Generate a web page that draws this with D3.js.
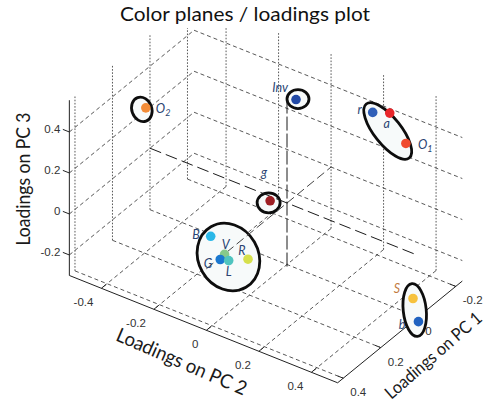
<!DOCTYPE html>
<html><head><meta charset="utf-8">
<script src="https://cdn.jsdelivr.net/npm/d3@7"></script>
<style>body{margin:0;background:#fff}</style>
</head><body>
<svg id="c" width="496" height="412" xmlns="http://www.w3.org/2000/svg"></svg>
<script>
// ---------- data ----------
const names     = ["O2", "Inv", "r", "a", "O1", "g", "B", "V", "G", "L", "R", "S", "b"];
const pc1Vals   = [0.235, -0.02, -0.17, -0.17, -0.20, 0.02, 0.19, 0.20, 0.23, 0.22, 0.18, 0.00, 0.02];
const pc2Vals   = [-0.37, 0.02, 0.205, 0.27, 0.31, -0.05, -0.155, -0.095, -0.09, -0.065, -0.02, 0.48, 0.515];
const pc3Vals   = [0.45, 0.50, 0.42, 0.45, 0.30, 0.00, -0.10, -0.15, -0.15, -0.15, -0.15, -0.22, -0.30];
const pointColors = ["#f28c38", "#2149a6", "#2f5fb8", "#e8262a", "#f04a2e", "#9e1f24", "#2bb8e8",
                     "#86c98a", "#1a78d0", "#4fc4bf", "#d6e04c", "#f7c23e", "#2062c0"];
const groups = [["O2"], ["Inv"], ["r", "a", "O1"], ["g"], ["B", "V", "G", "L", "R"], ["S", "b"]];
const pc1Ticks = [0.4, 0.2, 0, -0.2];
const pc2Ticks = [-0.4, -0.2, 0, 0.2, 0.4];
const pc3Ticks = [0.4, 0.2, 0, -0.2];
const pc1Lim = [-0.235, 0.43];
const pc2Lim = [-0.522, 0.5];
const pc3Lim = [-0.3, 0.555];
const titleText = "Color planes / loadings plot";
const axisTitles = ["Loadings on PC 1", "Loadings on PC 2", "Loadings on PC 3"];

// ---------- presentation ----------
const labelLayout = {
  O2:  {dx: 10,  dy: 5,   anchor: "start",  base: "O", sub: "2"},
  Inv: {dx: -8,  dy: -8,  anchor: "end",    base: "Inv"},
  r:   {dx: -11, dy: 2,   anchor: "end",    base: "r"},
  a:   {dx: -3,  dy: 15,  anchor: "middle", base: "a"},
  O1:  {dx: 12,  dy: 6,   anchor: "start",  base: "O", sub: "1"},
  g:   {dx: -6,  dy: -24, anchor: "middle", base: "g"},
  B:   {dx: -11, dy: 3,   anchor: "end",    base: "B"},
  V:   {dx: 1,   dy: -5,  anchor: "middle", base: "V"},
  G:   {dx: -8,  dy: 9,   anchor: "end",    base: "G"},
  L:   {dx: 0,   dy: 15,  anchor: "middle", base: "L"},
  R:   {dx: -6,  dy: -4,  anchor: "middle", base: "R"},
  S:   {dx: -13, dy: -6,  anchor: "end",    base: "S", color: "#c27a3e"},
  b:   {dx: -13, dy: 7,   anchor: "end",    base: "b"}
};
const ellipseStyle = [
  {dx: -4,   dy: 1.5, rx: 10,   ry: 12.5, rot: -20},
  {dx: 2,    dy: -0.5, rx: 11,  ry: 9.5,  rot: 0},
  {dx: -1.7, dy: 8,   rx: 34.5, ry: 13.5, rot: 51.5},
  {dx: -1.5, dy: 2,   rx: 11.5, ry: 10,   rot: 0},
  {dx: 2,    dy: 3,   rx: 30,   ry: 35,   rot: -30},
  {dx: -1,   dy: 0,   rx: 11.5, ry: 26.5, rot: -6}
];

// ---------- projection built from d3 scales ----------
const X1 = d3.scaleLinear().domain([0, 1]).range([0, -187.5]);
const Y1 = d3.scaleLinear().domain([0, 1]).range([0, 153]);
const X2 = d3.scaleLinear().domain([0, 1]).range([0, 262.5]);
const Y2 = d3.scaleLinear().domain([0, 1]).range([0, 105]);
const Y3 = d3.scaleLinear().domain([0, 1]).range([0, -205]);
const O = [287, 203];
const proj = (a, b, c) => [O[0] + X1(a) + X2(b), O[1] + Y1(a) + Y2(b) + Y3(c)];

const svg = d3.select("#c");
const [q0, q1] = pc1Lim, [p0, p1] = pc2Lim, [z0, z1] = pc3Lim;
const line = d3.line();

const gridG = svg.append("g").attr("fill", "none").attr("stroke", "#3a3a3a").attr("stroke-width", 0.85);
function seg(g, A, B, dash) {
  g.append("path").attr("d", line([A, B])).attr("stroke-dasharray", dash);
}
const DSL = "4,3", DV = "1.6,1.6";
// left back wall (pc2 = min)
pc1Ticks.forEach(t => seg(gridG, proj(t, p0, z0), proj(t, p0, z1), DV));
pc3Ticks.forEach(t => seg(gridG, proj(q1, p0, t), proj(q0, p0, t), DSL));
// right back wall (pc1 = min)
pc2Ticks.forEach(t => seg(gridG, proj(q0, t, z0), proj(q0, t, z1), DV));
pc3Ticks.forEach(t => seg(gridG, proj(q0, p0, t), proj(q0, p1, t), DSL));
// floor
pc1Ticks.forEach(t => seg(gridG, proj(t, p0, z0), proj(t, p1, z0), DSL));
pc2Ticks.forEach(t => seg(gridG, proj(q0, t, z0), proj(q1, t, z0), DSL));

// axes
const axG = svg.append("g").attr("stroke", "#222").attr("stroke-width", 1).attr("fill", "none");
axG.append("path").attr("d", line([proj(q1, p0, z0), proj(q1, p0, z1)]));
axG.append("path").attr("d", line([proj(q1, p0, z0), proj(q1, p1, z0)]));
axG.append("path").attr("d", line([proj(q1, p1, z0), proj(q0, p1, z0)]));
const unit = (v) => { const l = Math.hypot(v[0], v[1]); return [v[0] / l, v[1] / l]; };
const dirBack1 = unit([X1(-1), Y1(-1)]);   // towards smaller PC1
const dirBack2 = unit([X2(-1), Y2(-1)]);   // towards smaller PC2
const tickG = svg.append("g").attr("font-family", "'Liberation Sans', Arial, sans-serif")
  .attr("font-size", 11.5).attr("fill", "#333");
pc3Ticks.forEach(t => {
  const P = proj(q1, p0, t);
  axG.append("path").attr("d", line([P, [P[0] + dirBack2[0] * 7, P[1] + dirBack2[1] * 7]]));
  tickG.append("text").attr("x", P[0] - 9).attr("y", P[1] + 1).attr("text-anchor", "end").text(t);
});
pc2Ticks.forEach(t => {
  const P = proj(q1, t, z0);
  axG.append("path").attr("d", line([P, [P[0] + dirBack1[0] * 6, P[1] + dirBack1[1] * 6]]));
  tickG.append("text").attr("x", P[0] - 8).attr("y", P[1] + 18).attr("text-anchor", "end").text(t);
});
pc1Ticks.forEach(t => {
  const P = proj(t, p1, z0);
  axG.append("path").attr("d", line([P, [P[0] + dirBack2[0] * 6, P[1] + dirBack2[1] * 6]]));
  tickG.append("text").attr("x", P[0] + 7).attr("y", P[1] + 18).attr("text-anchor", "start").text(t);
});

// points
const pts = names.map((n, i) => ({name: n, a: pc1Vals[i], b: pc2Vals[i], c: pc3Vals[i], color: pointColors[i]}));
pts.forEach(d => { d.P = proj(d.a, d.b, d.c); });
const byName = Object.fromEntries(pts.map(d => [d.name, d]));

// ellipses
const ellG = svg.append("g");
groups.forEach((grp, i) => {
  const cx = d3.mean(grp, n => byName[n].P[0]) + ellipseStyle[i].dx;
  const cy = d3.mean(grp, n => byName[n].P[1]) + ellipseStyle[i].dy;
  ellG.append("ellipse").attr("cx", 0).attr("cy", 0)
    .attr("rx", ellipseStyle[i].rx).attr("ry", ellipseStyle[i].ry)
    .attr("transform", `translate(${cx},${cy}) rotate(${ellipseStyle[i].rot})`)
    .attr("fill", "#f7fafa").attr("stroke", "#0d0d0d").attr("stroke-width", 2.8);
});

// principal lines through the origin
const plG = svg.append("g").attr("stroke", "#1a1a1a").attr("stroke-width", 1).attr("fill", "none")
  .attr("stroke-dasharray", "12,5");
plG.append("path").attr("d", line([proj(q1, 0, 0), proj(q0, 0, 0)])).attr("stroke", "#444").attr("stroke-dasharray", "9,4");
plG.append("path").attr("d", line([proj(0, p0, 0), proj(0, p1, 0)]));
plG.append("path").attr("d", line([proj(0, 0, z0 - 0.01), proj(0, 0, 0.5)])).attr("stroke-dasharray", "14,3");

// points
svg.append("g").selectAll("circle").data(pts).join("circle")
  .attr("cx", d => d.P[0]).attr("cy", d => d.P[1]).attr("r", 4.8).attr("fill", d => d.color);

// labels
const labG = svg.append("g").attr("font-family", "Lato, 'Open Sans', sans-serif").attr("font-style", "italic")
  .attr("font-size", 12.5);
pts.forEach(d => {
  const L = labelLayout[d.name];
  const t = labG.append("text").attr("x", d.P[0] + L.dx).attr("y", d.P[1] + L.dy)
    .attr("text-anchor", L.anchor).attr("fill", L.color || "#2a4472").text(L.base);
  if (L.sub) t.append("tspan").attr("font-size", 9).attr("dy", 3).text(L.sub);
});

// axis titles
const atG = svg.append("g").attr("font-family", "Lato, 'Open Sans', sans-serif").attr("fill", "#1a1a1a")
  .attr("text-anchor", "middle").attr("dominant-baseline", "central");
function axTitle(txt, tr, len, fs) {
  atG.append("text").attr("transform", tr).attr("font-size", fs)
    .attr("textLength", len).attr("lengthAdjust", "spacingAndGlyphs").text(txt);
}
axTitle(axisTitles[0], "translate(433,355) rotate(-41)", 122, 17.5);
axTitle(axisTitles[1], "translate(182,361) rotate(23.5)", 140, 19.5);
axTitle(axisTitles[2], "translate(22,179) rotate(-90)", 133, 19.5);

// title
svg.append("rect").attr("x", 112).attr("y", 0).attr("width", 266).attr("height", 28).attr("fill", "#fff");
svg.append("text").attr("x", 245).attr("y", 21).attr("text-anchor", "middle")
  .attr("font-family", "Lato, 'Open Sans', sans-serif").attr("font-size", 19).attr("fill", "#111")
  .attr("textLength", 250).attr("lengthAdjust", "spacingAndGlyphs").text(titleText);
</script>
</body></html>
